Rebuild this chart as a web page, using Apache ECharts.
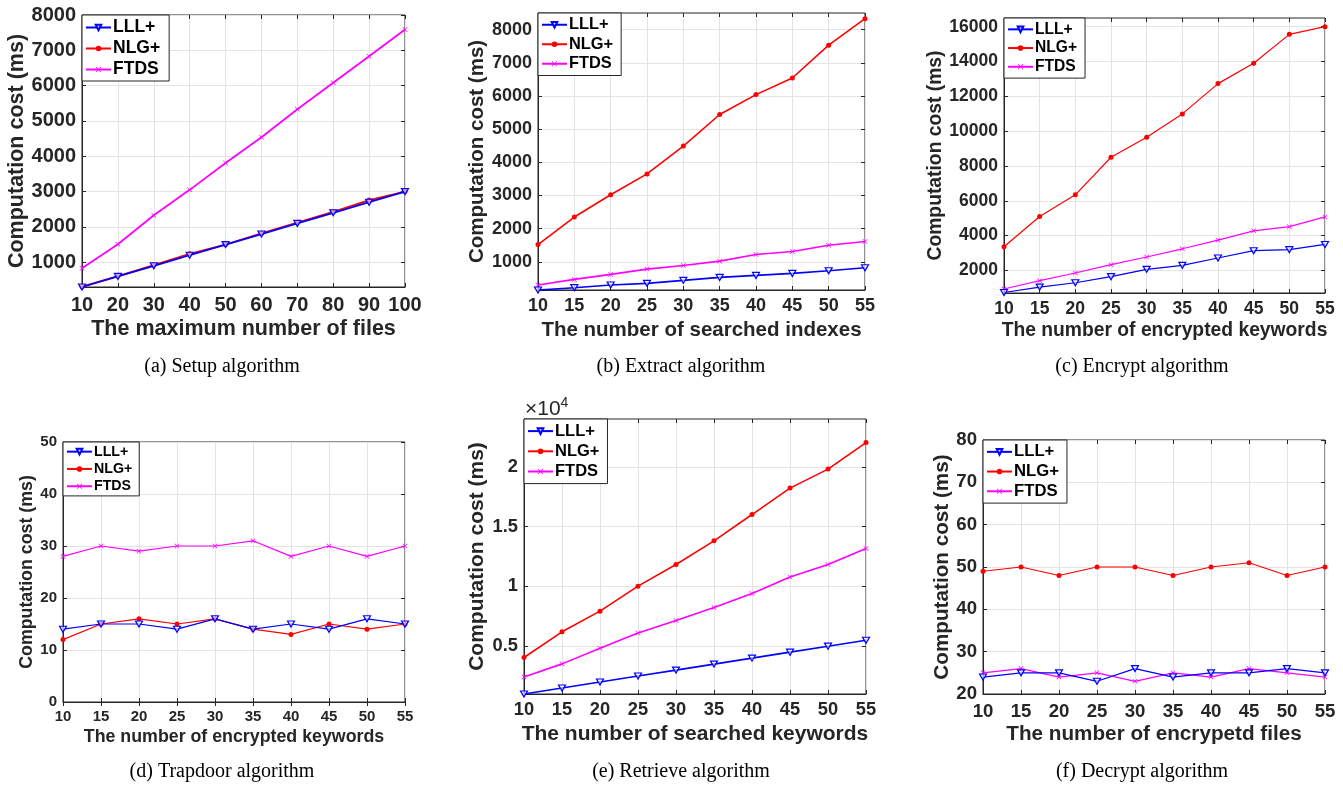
<!DOCTYPE html>
<html><head><meta charset="utf-8">
<script src="https://cdn.jsdelivr.net/npm/echarts@6/dist/echarts.min.js"></script>
<style>html,body{margin:0;padding:0;background:#fff}#c{width:1343px;height:785px}</style>
</head><body><div id="c"></div>
<script>
const seriesNames = ['LLL+', 'NLG+', 'FTDS'];
const xFiles = [10, 20, 30, 40, 50, 60, 70, 80, 90, 100];
const xCounts = [10, 15, 20, 25, 30, 35, 40, 45, 50, 55];

const setupLLL = [300, 600, 900, 1200, 1500, 1800, 2100, 2400, 2700, 3000];
const setupNLG = [310, 610, 920, 1240, 1500, 1820, 2120, 2430, 2760, 3000];
const setupFTDS = [830, 1510, 2330, 3050, 3810, 4540, 5330, 6080, 6830, 7590];

const extractLLL = [150, 220, 300, 350, 440, 530, 590, 650, 730, 820];
const extractNLG = [1520, 2350, 3020, 3650, 4490, 5440, 6040, 6540, 7530, 8330];
const extractFTDS = [300, 470, 620, 780, 890, 1020, 1220, 1310, 1500, 1610];

const encryptLLL = [730, 1040, 1290, 1640, 2060, 2290, 2710, 3130, 3190, 3490];
const encryptNLG = [3360, 5100, 6340, 8500, 9650, 10990, 12730, 13900, 15560, 16000];
const encryptFTDS = [930, 1410, 1850, 2330, 2770, 3240, 3740, 4270, 4510, 5070];

const trapdoorLLL = [14, 15, 15, 14, 16, 14, 15, 14, 16, 15];
const trapdoorNLG = [12, 15, 16, 15, 16, 14, 13, 15, 14, 15];
const trapdoorFTDS = [28, 30, 29, 30, 30, 31, 28, 30, 28, 30];

const retrieveLLL = [1000, 1500, 2000, 2500, 3000, 3500, 4000, 4500, 5000, 5500];
const retrieveNLG = [4050, 6200, 7930, 10020, 11830, 13810, 16010, 18220, 19810, 22030];
const retrieveFTDS = [2430, 3520, 4830, 6110, 7140, 8230, 9400, 10790, 11830, 13170];

const decryptLLL = [24, 25, 25, 23, 26, 24, 25, 25, 26, 25];
const decryptNLG = [49, 50, 48, 50, 50, 48, 50, 51, 48, 50];
const decryptFTDS = [25, 26, 24, 25, 23, 25, 24, 26, 25, 24];

const yTicksSetup = [1000, 2000, 3000, 4000, 5000, 6000, 7000, 8000];
const yTicksExtract = [1000, 2000, 3000, 4000, 5000, 6000, 7000, 8000];
const yTicksEncrypt = [2000, 4000, 6000, 8000, 10000, 12000, 14000, 16000];
const yTicksTrapdoor = [0, 10, 20, 30, 40, 50];
const yTicksRetrieve = [5000, 10000, 15000, 20000];
const yTicksDecrypt = [20, 30, 40, 50, 60, 70, 80];

const xTitles = ['The maximum number of files', 'The number of searched indexes', 'The number of encrypted keywords',
  'The number of encrypted keywords', 'The number of searched keywords', 'The number of encrypetd files'];
const yTitle = 'Computation cost (ms)';
const captions = ['(a) Setup algorithm', '(b) Extract algorithm', '(c) Encrypt algorithm',
  '(d) Trapdoor algorithm', '(e) Retrieve algorithm', '(f) Decrypt algorithm'];

const FONT = '"Liberation Sans", Arial, Helvetica, sans-serif';
const TXT = '#262626';
const COLORS = ['#0000ff', '#ff0000', '#ff00ff'];
const SYMBOLS = ['path://M0,0 L10,0 L5,9 Z', 'circle', 'path://M0,1 L1,0 L5,4 L9,0 L10,1 L6,5 L10,9 L9,10 L5,6 L1,10 L0,9 L4,5 Z'];

const panels = [
  { x: xFiles, xmin: 10, xmax: 100, xint: 10, ymin: 300, ymax: 8000, yt: yTicksSetup, data: [setupLLL, setupNLG, setupFTDS],
    g: { left: 82, top: 15, width: 323, height: 272 }, fs: 20, nfs: 21.5, lfs: 17.5, lh: 21, lpad: [2, 9, 1, 3], lw: 1.8, ygap: 54, xgap: 31, lm: 8,
    cap: [222, 367] },
  { x: xCounts, xmin: 10, xmax: 55, xint: 5, ymin: 150, ymax: 8500, yt: yTicksExtract, data: [extractLLL, extractNLG, extractFTDS],
    g: { left: 538, top: 13, width: 327, height: 277 }, fs: 18, nfs: 20.5, lfs: 16.4, lh: 19.5, lpad: [2, 8, 2, 3], lw: 1.6, ygap: 50, xgap: 30, lm: 7,
    cap: [681, 367] },
  { x: xCounts, xmin: 10, xmax: 55, xint: 5, ymin: 700, ymax: 16500, yt: yTicksEncrypt, data: [encryptLLL, encryptNLG, encryptFTDS],
    g: { left: 1004, top: 18, width: 321, height: 275 }, fs: 17.5, nfs: 19.3, lfs: 15.6, lh: 18.7, lpad: [2, 8, 2, 3], lw: 1.2, ygap: 58, xgap: 28, lm: 7,
    cap: [1142, 367] },
  { x: xCounts, xmin: 10, xmax: 55, xint: 5, ymin: 0, ymax: 50, yt: yTicksTrapdoor, data: [trapdoorLLL, trapdoorNLG, trapdoorFTDS],
    g: { left: 63, top: 442, width: 342, height: 260 }, fs: 15, nfs: 17.8, lfs: 14.2, lh: 17.3, lpad: [1, 7, 1, 3], lw: 1.2, ygap: 27, xgap: 26, lm: 7,
    cap: [222, 772] },
  { x: xCounts, xmin: 10, xmax: 55, xint: 5, ymin: 1000, ymax: 24000, yt: yTicksRetrieve, data: [retrieveLLL, retrieveNLG, retrieveFTDS],
    g: { left: 524, top: 419, width: 342, height: 275 }, fs: 18.3, nfs: 21, lfs: 16.5, lh: 20.2, lpad: [2, 8, 2, 3], lw: 1.6, ygap: 36, xgap: 30, lm: 7,
    fmt: v => String(v / 10000), cap: [681, 772] },
  { x: xCounts, xmin: 10, xmax: 55, xint: 5, ymin: 20, ymax: 80, yt: yTicksDecrypt, data: [decryptLLL, decryptNLG, decryptFTDS],
    g: { left: 983, top: 440, width: 342, height: 254 }, fs: 18.6, nfs: 20.7, lfs: 16.7, lh: 19.7, lpad: [2, 8, 2, 3], lw: 1.2, ygap: 30, xgap: 30, lm: 8,
    cap: [1142, 772] }
];

const option = {
  animation: false,
  backgroundColor: '#fff',
  grid: [], xAxis: [], yAxis: [], series: [], legend: [], graphic: []
};

panels.forEach((p, i) => {
  option.grid.push(Object.assign({ show: true, borderColor: TXT, borderWidth: 1, backgroundColor: '#fff', containLabel: false }, p.g));
  const xTicks = p.x;
  const tick = { show: true, inside: true, length: 4, lineStyle: { color: TXT, width: 1 } };
  const labelBase = { color: TXT, fontFamily: FONT, fontWeight: 'bold', fontSize: p.fs };
  option.xAxis.push({
    type: 'value', gridIndex: i, position: 'bottom', min: p.xmin, max: p.xmax, interval: p.xint,
    name: xTitles[i], nameLocation: 'middle', nameGap: p.xgap,
    nameTextStyle: { color: TXT, fontFamily: FONT, fontWeight: 'bold', fontSize: p.nfs },
    axisLine: { show: true, onZero: false, lineStyle: { color: TXT, width: 1 } },
    axisTick: tick,
    axisLabel: Object.assign({ margin: p.lm, showMinLabel: true, showMaxLabel: true, formatter: v => String(v) }, labelBase),
    splitLine: { show: true, lineStyle: { color: '#e3e3e3', width: 1 } }
  });
  option.xAxis.push({
    type: 'value', gridIndex: i, position: 'top', min: p.xmin, max: p.xmax, interval: p.xint,
    axisLine: { show: false }, axisTick: tick, axisLabel: { show: false }, splitLine: { show: false }
  });
  const yLabel = Object.assign({ margin: 6, customValues: p.yt, showMinLabel: true, showMaxLabel: true,
    formatter: p.fmt || (v => String(v)) }, labelBase);
  option.yAxis.push({
    type: 'value', gridIndex: i, position: 'left', min: p.ymin, max: p.ymax,
    name: yTitle, nameLocation: 'middle', nameGap: p.ygap,
    nameTextStyle: { color: TXT, fontFamily: FONT, fontWeight: 'bold', fontSize: p.nfs },
    axisLine: { show: true, onZero: false, lineStyle: { color: TXT, width: 1 } },
    axisTick: Object.assign({ customValues: p.yt }, tick),
    axisLabel: yLabel,
    splitLine: { show: true, lineStyle: { color: '#e3e3e3', width: 1 } }
  });
  option.yAxis.push({
    type: 'value', gridIndex: i, position: 'right', min: p.ymin, max: p.ymax,
    axisLine: { show: false }, axisTick: Object.assign({ customValues: p.yt }, tick),
    axisLabel: { show: false, customValues: p.yt }, splitLine: { show: false }
  });
  p.data.forEach((vals, k) => {
    const isTri = k === 0;
    option.series.push({
      type: 'line', name: seriesNames[k], xAxisIndex: 2 * i, yAxisIndex: 2 * i,
      data: xTicks.map((xv, j) => [xv, vals[j]]),
      symbol: SYMBOLS[k], symbolSize: isTri ? [7, 6] : 5,
      showAllSymbol: true,
      lineStyle: { color: COLORS[k], width: p.lw },
      itemStyle: isTri ? { color: 'rgba(255,255,255,0.6)', borderColor: COLORS[k], borderWidth: 1.2 } : { color: COLORS[k] },
      z: 5 - k
    });
  });
  option.legend.push({
    left: p.g.left, top: p.g.top, orient: 'vertical',
    data: seriesNames,
    itemWidth: 25, itemHeight: 7, itemGap: 0,
    padding: p.lpad,
    backgroundColor: '#fff', borderColor: TXT, borderWidth: 1, borderRadius: 0,
    textStyle: { color: '#000', fontFamily: FONT, fontWeight: 'bold', fontSize: p.lfs, lineHeight: p.lh, height: p.lh, padding: [0, 0, 0, -3] },
    selectedMode: false
  });
  option.graphic.push({
    type: 'text', x: p.cap[0], y: p.cap[1],
    style: { text: captions[i], font: '20px "Liberation Serif", "Times New Roman", serif', fill: '#000',
      textAlign: 'center', textVerticalAlign: 'middle' }
  });
});

option.graphic.push({
  type: 'text', x: 525, y: 409,
  style: {
    text: '{a|×10}{b|4}',
    rich: {
      a: { fontFamily: FONT, fontSize: 21, fill: TXT, color: TXT },
      b: { fontFamily: FONT, fontSize: 14, fill: TXT, color: TXT, verticalAlign: 'top', padding: [0, 0, 12, 0] }
    },
    textVerticalAlign: 'middle'
  }
});

const chart = echarts.init(document.getElementById('c'), null, { renderer: 'canvas' });
chart.setOption(option);
</script>
</body></html>
